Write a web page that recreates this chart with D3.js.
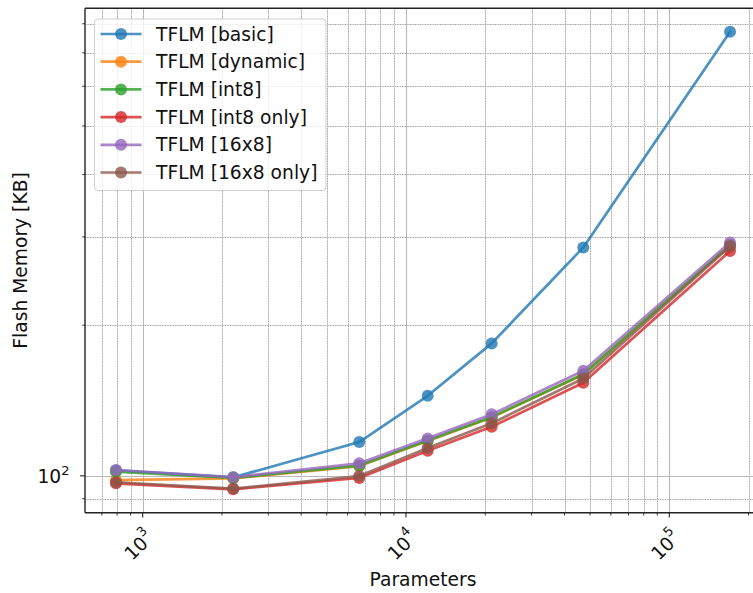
<!DOCTYPE html>
<html><head><meta charset="utf-8">
<script src="https://cdn.jsdelivr.net/npm/d3@7"></script>
<style>body{margin:0;background:#fff}svg{display:block;font-family:"DejaVu Sans",sans-serif}</style>
</head><body>
<svg id="c" width="753" height="593"></svg>
<script>
const params = [792, 2208, 6645, 12090, 21160, 47140, 170100];
const seriesNames = ["TFLM [basic]", "TFLM [dynamic]", "TFLM [int8]", "TFLM [int8 only]", "TFLM [16x8]", "TFLM [16x8 only]"];
const basic     = [102.5, 99.3, 116.8, 144.5, 183.9, 286.0, 770.9];
const dynamic   = [98.0, 98.8, 104.6, 117.4, 130.8, 159.4, 288.8];
const int8      = [101.9, 99.0, 104.8, 117.6, 131.0, 159.6, 289.0];
const int8only  = [96.6, 94.0, 99.0, 112.2, 125.3, 153.4, 281.2];
const q16x8     = [102.7, 99.4, 105.9, 118.8, 132.7, 162.1, 292.6];
const q16x8only = [97.1, 94.3, 99.9, 113.7, 127.3, 156.5, 287.5];
const colors = ["#1f77b4", "#ff7f0e", "#2ca02c", "#d62728", "#9467bd", "#8c564b"];
const xMajor = [1e3, 1e4, 1e5];
const xMajorLabels = ["3", "4", "5"];
const yMajor = [100];
const yMajorLabels = ["2"];
const xLabel = "Parameters";
const yLabel = "Flash Memory [KB]";

const allSeries = [basic, dynamic, int8, int8only, q16x8, q16x8only];
const svg = d3.select("#c");
const L = 85, R = 761, T = 8.3, B = 512.7;
const x = d3.scaleLog().domain([604, 223000]).range([L, R]);
const y = d3.scaleLog().domain([84.4, 859]).range([B, T]);

const xMinor = [];
for (let e = 2; e <= 5; e++) for (let m = 2; m <= 9; m++) { const v = m * Math.pow(10, e); if (v > 604 && v < 223000) xMinor.push(v); }
const yMinor = [];
for (let e = 1; e <= 2; e++) for (let m = 2; m <= 9; m++) { const v = m * Math.pow(10, e); if (v > 84.4 && v < 859) yMinor.push(v); }

const g = svg.append("g");
function minorV(v){ const px = Math.round(x(v))+0.5;
  g.append("line").attr("x1",px).attr("x2",px).attr("y1",T).attr("y2",B).attr("stroke","#dddddd").attr("stroke-width",1);
  g.append("line").attr("x1",px).attr("x2",px).attr("y1",T).attr("y2",B).attr("stroke","#a0a0a0").attr("stroke-width",1).attr("stroke-dasharray","1,1.5");}
function minorH(v){ const py = Math.round(y(v))+0.5;
  g.append("line").attr("x1",L).attr("x2",R).attr("y1",py).attr("y2",py).attr("stroke","#dddddd").attr("stroke-width",1);
  g.append("line").attr("x1",L).attr("x2",R).attr("y1",py).attr("y2",py).attr("stroke","#a0a0a0").attr("stroke-width",1).attr("stroke-dasharray","1,1.5");}
xMinor.forEach(minorV); yMinor.forEach(minorH);
xMajor.forEach(v=>{const px=Math.round(x(v))+0.5; g.append("line").attr("x1",px).attr("x2",px).attr("y1",T).attr("y2",B).attr("stroke","#b8b8b8").attr("stroke-width",1.1);});
yMajor.forEach(v=>{const py=Math.round(y(v))+0.5; g.append("line").attr("x1",L).attr("x2",R).attr("y1",py).attr("y2",py).attr("stroke","#b8b8b8").attr("stroke-width",1.1);});

const line = d3.line().x((d,i)=>x(params[i])).y(d=>y(d));
allSeries.forEach((s,k)=>{
  svg.append("path").datum(s).attr("d",line).attr("fill","none").attr("stroke",colors[k]).attr("stroke-width",2.7).attr("stroke-opacity",0.8).attr("stroke-linejoin","round").attr("stroke-linecap","square");
  svg.append("g").selectAll("circle").data(s).join("circle").attr("cx",(d,i)=>x(params[i])).attr("cy",d=>y(d)).attr("r",6).attr("fill",colors[k]).attr("fill-opacity",0.8);
});

svg.append("line").attr("x1",L).attr("x2",L).attr("y1",T).attr("y2",B).attr("stroke","#222").attr("stroke-width",1.4);
svg.append("line").attr("x1",L).attr("x2",R).attr("y1",B).attr("y2",B).attr("stroke","#222").attr("stroke-width",1.4);
svg.append("line").attr("x1",L).attr("x2",R).attr("y1",T).attr("y2",T).attr("stroke","#222").attr("stroke-width",1.4);
svg.append("line").attr("x1",R).attr("x2",R).attr("y1",T).attr("y2",B).attr("stroke","#222").attr("stroke-width",1.4);

xMajor.forEach(v=>svg.append("line").attr("x1",x(v)).attr("x2",x(v)).attr("y1",B).attr("y2",B+4.9).attr("stroke","#222").attr("stroke-width",1.1));
xMinor.forEach(v=>svg.append("line").attr("x1",x(v)).attr("x2",x(v)).attr("y1",B).attr("y2",B+2.8).attr("stroke","#222").attr("stroke-width",0.9));
yMajor.forEach(v=>svg.append("line").attr("x1",L).attr("x2",L-4.9).attr("y1",y(v)).attr("y2",y(v)).attr("stroke","#222").attr("stroke-width",1.1));
yMinor.forEach(v=>svg.append("line").attr("x1",L).attr("x2",L-2.8).attr("y1",y(v)).attr("y2",y(v)).attr("stroke","#222").attr("stroke-width",0.9));

const fs = 18.7;
xMajor.forEach((v,i)=>{
  const t = svg.append("text").attr("transform",`translate(${x(v)-4},${545}) rotate(-45)`).attr("text-anchor","middle").attr("dominant-baseline","central").attr("font-size",fs).attr("fill","#111");
  t.append("tspan").text("10");
  t.append("tspan").attr("font-size",fs*0.7).attr("dy",-8).text(xMajorLabels[i]);
});
yMajor.forEach((v,i)=>{
  const t = svg.append("text").attr("x",69.5).attr("y",y(v)+6.7).attr("text-anchor","end").attr("font-size",fs).attr("fill","#111");
  t.append("tspan").text("10");
  t.append("tspan").attr("font-size",fs*0.7).attr("dy",-8).text(yMajorLabels[i]);
});
svg.append("text").attr("x",(L+R)/2).attr("y",586).attr("text-anchor","middle").attr("font-size",fs).attr("fill","#111").text(xLabel);
svg.append("text").attr("transform",`translate(27,${(T+B)/2}) rotate(-90)`).attr("text-anchor","middle").attr("font-size",fs).attr("fill","#111").text(yLabel);

const lg = svg.append("g");
lg.append("rect").attr("x",94.5).attr("y",19).attr("width",231.5).attr("height",171.5).attr("rx",3.5).attr("fill","#fff").attr("fill-opacity",0.8).attr("stroke","#d0d0d0").attr("stroke-width",1);
seriesNames.forEach((n,k)=>{
  const ry = 34 + k*27.7;
  lg.append("line").attr("x1",100.5).attr("x2",141.5).attr("y1",ry).attr("y2",ry).attr("stroke",colors[k]).attr("stroke-width",2.7).attr("stroke-opacity",0.8);
  lg.append("circle").attr("cx",121).attr("cy",ry).attr("r",6).attr("fill",colors[k]).attr("fill-opacity",0.8);
  lg.append("text").attr("x",156).attr("y",ry).attr("dominant-baseline","central").attr("font-size",fs).attr("fill","#111").text(n);
});
</script>
</body></html>
